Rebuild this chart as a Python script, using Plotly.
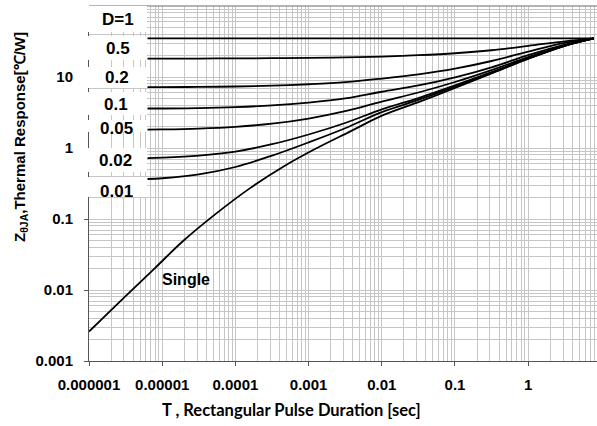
import plotly.graph_objects as go

# ---- data ----
t_single = [1e-6, 3.16e-6, 7.9e-6, 1.93e-5, 5.5e-5, 1.57e-4, 4.5e-4, 1.28e-3, 3.66e-3,
            1.04e-2, 3.3e-2, 0.1, 0.316, 1, 3.16, 7.9]
z_single = [0.0026, 0.0082, 0.0202, 0.049, 0.12, 0.27, 0.545, 0.99, 1.70,
            2.9, 4.5, 7.0, 11.2, 18.0, 27.5, 35]

t_duty = [6.3e-6, 1e-5, 3.16e-5, 1e-4, 3.16e-4, 1e-3, 3.16e-3, 1e-2, 3.16e-2,
          0.1, 0.316, 1, 3.16, 7.9]
z_d1 = [35, 35, 35, 35, 35, 35, 35, 35, 35, 35, 35, 35, 35, 35]
z_d05 = [18.2, 18.2, 18.2, 18.3, 18.4, 18.6, 18.9, 19.4, 20.3, 21.6, 23.8, 27.4, 31.8, 35]
z_d02 = [7.2, 7.2, 7.25, 7.35, 7.55, 7.9, 8.45, 9.5, 10.9, 13.1, 16.8, 22.8, 30.2, 35]
z_d01 = [3.6, 3.6, 3.65, 3.77, 3.98, 4.37, 5.0, 6.2, 7.6, 9.9, 13.7, 20.3, 28.6, 35]
z_d005 = [1.82, 1.83, 1.88, 1.99, 2.2, 2.6, 3.3, 4.5, 6.05, 8.5, 12.5, 19.0, 28.0, 35]
z_d002 = [0.72, 0.73, 0.78, 0.89, 1.13, 1.55, 2.25, 3.5, 5.05, 7.6, 11.7, 18.4, 27.6, 35]
z_d001 = [0.366, 0.375, 0.425, 0.54, 0.78, 1.2, 1.9, 3.2, 4.75, 7.3, 11.4, 18.2, 27.5, 35]

duty_labels = ["D=1", "0.5", "0.2", "0.1", "0.05", "0.02", "0.01"]
duty_series = [z_d1, z_d05, z_d02, z_d01, z_d005, z_d002, z_d001]

x_tickvals = [1e-6, 1e-5, 1e-4, 1e-3, 1e-2, 1e-1, 1]
x_ticktext = ["0.000001", "0.00001", "0.0001", "0.001", "0.01", "0.1", "1"]
y_tickvals = [0.001, 0.01, 0.1, 1, 10]
y_ticktext = ["0.001", "0.01", "0.1", "1", "10"]

# ---- layout geometry (pixels) ----
W, H = 597, 426
L, R, T, B = 89, 0, 6, 65
PW, PH = W - L - R, H - T - B


def px(X):
    return (X - L) / PW


def py(Y):
    return (H - B - Y) / PH


fig = go.Figure()
for lab, z in zip(duty_labels, duty_series):
    fig.add_trace(go.Scatter(x=t_duty, y=z, mode="lines", name=lab,
                             line=dict(color="black", width=1.8, shape="spline", smoothing=1.0)))
fig.add_trace(go.Scatter(x=t_single, y=z_single, mode="lines", name="Single",
                         line=dict(color="black", width=1.8, shape="spline", smoothing=1.0)))

grid = "#c6c6c6"
tickfont = dict(family="Liberation Sans, Arial", size=15, color="black", weight="bold")
fig.update_xaxes(type="log", range=[-6, 0.94], tickmode="array", tickvals=x_tickvals,
                 ticktext=x_ticktext, tickfont=tickfont, showgrid=True, gridcolor=grid,
                 gridwidth=1, showline=True, linecolor="#555555", linewidth=1,
                 ticks="outside", ticklen=4, tickcolor="#555555", ticklabelstandoff=6,
                 minor=dict(dtick="D1", showgrid=True, gridcolor=grid, gridwidth=1),
                 zeroline=False, automargin=False)
fig.update_yaxes(type="log", range=[-3, 2], tickmode="array", tickvals=y_tickvals,
                 ticktext=y_ticktext, tickfont=tickfont, showgrid=True, gridcolor=grid,
                 gridwidth=1, showline=True, linecolor="#555555", linewidth=1,
                 ticks="outside", ticklen=4, tickcolor="#555555", ticklabelstandoff=8,
                 minor=dict(dtick="D1", showgrid=True, gridcolor=grid, gridwidth=1),
                 zeroline=False, automargin=False)

shapes = [dict(type="line", xref="paper", yref="paper", x0=0, x1=1, y0=1, y1=1,
               line=dict(color="#9a9a9a", width=1.5))]
# white label boxes (pixel extents)
boxes = [(6, 32), (36, 60), (67, 88), (92, 115), (120, 132), (148, 172), (177, 197)]
for y0, y1 in boxes:
    shapes.append(dict(type="rect", xref="paper", yref="paper", layer="above",
                       x0=px(84), x1=px(147), y0=py(y1), y1=py(y0),
                       fillcolor="white", line=dict(width=0)))

lab_pos = [(117.5, 20), (118, 49), (116.5, 78), (116, 105), (116, 128), (115.5, 160), (116, 191)]
annots = []
labfont = dict(family="Liberation Sans, Arial", size=17, color="black", weight="bold")
for lab, (X, Y) in zip(duty_labels, lab_pos):
    annots.append(dict(xref="paper", yref="paper", x=px(X), y=py(Y), text=lab,
                       showarrow=False, font=labfont, xanchor="center", yanchor="middle"))
annots.append(dict(xref="paper", yref="paper", x=px(186), y=py(279), text="Single",
                   showarrow=False, font=dict(family="Liberation Sans, Arial", size=16,
                                              color="black", weight="bold"),
                   xanchor="center", yanchor="middle"))
annots.append(dict(xref="paper", yref="paper", x=px(291), y=py(410),
                   text="T , Rectangular Pulse Duration [sec]", showarrow=False,
                   font=dict(family="Lato", size=16.5, color="black", weight="bold"),
                   xanchor="center", yanchor="middle"))
annots.append(dict(xref="paper", yref="paper", x=px(21), y=py(137),
                   text="Z<sub>θJA</sub>,Thermal Response[℃/W]", textangle=-90,
                   showarrow=False,
                   font=dict(family="Liberation Sans, Arial", size=15, color="black", weight="bold"),
                   xanchor="center", yanchor="middle"))

fig.update_layout(width=W, height=H, margin=dict(l=L, r=R, t=T, b=B, autoexpand=False),
                  paper_bgcolor="white", plot_bgcolor="white", showlegend=False,
                  shapes=shapes, annotations=annots)
fig.write_html("out.html", config={"displayModeBar": False},
               post_script="document.body.style.margin='0';document.body.style.padding='0';")
